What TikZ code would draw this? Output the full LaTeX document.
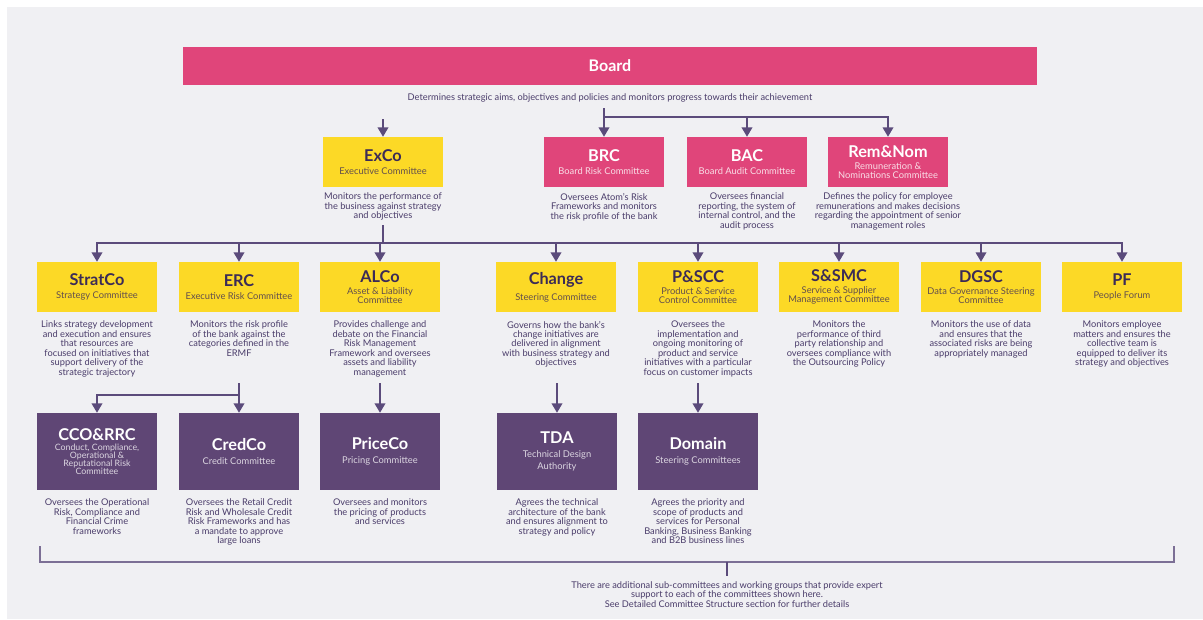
\documentclass[tikz,border=0pt]{standalone}
\usepackage{fontspec}
\setmainfont{Lato}
\usetikzlibrary{arrows.meta}
\definecolor{cbg}{HTML}{F0F0F3}
\definecolor{cpink}{HTML}{E0457A}
\definecolor{cyel}{HTML}{FCD926}
\definecolor{cpur}{HTML}{5F4675}
\definecolor{cline}{HTML}{5B4B7B}
\definecolor{ctxt}{HTML}{3B2B57}
\definecolor{cdesc}{HTML}{4A3C6A}
\newcommand\cttl[1]{{\fontsize{12.2}{12}\selectfont\bfseries #1}}
\newcommand\ysub[1]{{\color{ctxt!80!cyel}#1}}
\newcommand\psub[1]{{\color{white!82!cpink}#1}}
\newcommand\vsub[1]{{\color{white!78!cpur}#1}}
\newcommand\vsubs[1]{{\fontsize{6.6}{5.4}\selectfont\color{white!78!cpur}#1}}
\begin{document}
\begin{tikzpicture}[x=0.75pt,y=-0.75pt,
 box/.style={minimum width=90pt, minimum height=37.5pt, inner sep=1pt, align=center, font=\fontsize{7}{6.6}\selectfont},
 ybox/.style={box, fill=cyel, text=ctxt},
 pbox/.style={box, fill=cpink, text=white},
 vbox/.style={box, fill=cpur, text=white, minimum height=57.75pt},
 desc/.style={font=\fontsize{6.95}{7.1}\selectfont, text=cdesc, align=center, inner sep=0pt, anchor=north},
 ln/.style={draw=cline, line width=1pt},
 arr/.style={ln, -{Triangle[width=8pt,length=7pt]}},
]
\useasboundingbox (0,0) rectangle (1203,619);
\fill[cbg] (7,7) rectangle (1203,619);

% Board
\node[fill=cpink, text=white, minimum width=640.5pt, minimum height=28.5pt, inner sep=0pt,
  font=\fontsize{12}{12}\selectfont\bfseries] (board) at (610,66) {Board};
\node[desc] (bdesc) at (610,93) {Determines strategic aims, objectives and policies and monitors progress towards their achievement};

% Top row
\node[ybox] (exco) at (383,162) {\cttl{ExCo}\\[3.5pt]\ysub{Executive Committee}};
\node[pbox] (brc) at (604,162) {\cttl{BRC}\\[3.5pt]\psub{Board Risk Committee}};
\node[pbox] (bac) at (747,162) {\cttl{BAC}\\[3.5pt]\psub{Board Audit Committee}};
\node[pbox] (remnom) at (888,162) {\cttl{Rem\&Nom}\\[2.5pt]\psub{Remuneration \&}\\\psub{Nominations Committee}};

\node[desc] (dexco) at ([yshift=-4.2pt]exco.south) {Monitors the performance of\\the business against strategy\\and objectives};
\node[desc] (dbrc) at ([yshift=-4.2pt]brc.south) {Oversees Atom’s Risk\\Frameworks and monitors\\the risk profile of the bank};
\node[desc] (dbac) at ([yshift=-4.2pt]bac.south) {Oversees financial\\reporting, the system of\\internal control, and the\\audit process};
\node[desc] (dremnom) at ([yshift=-4.2pt]remnom.south) {Defines the policy for employee\\remunerations and makes decisions\\regarding the appointment of senior\\management roles};

% Second row
\node[ybox] (stratco) at (97,287) {\cttl{StratCo}\\[3.5pt]\ysub{Strategy Committee}};
\node[ybox] (erc) at (239,287) {\cttl{ERC}\\[3.5pt]\ysub{Executive Risk Committee}};
\node[ybox] (alco) at (380,287) {\cttl{ALCo}\\[2.5pt]\ysub{Asset \& Liability}\\\ysub{Committee}};
\node[ybox] (change) at (556,287) {\cttl{Change}\\[3.5pt]\ysub{Steering Committee}};
\node[ybox] (pscc) at (698,287) {\cttl{P\&SCC}\\[2.5pt]\ysub{Product \& Service}\\\ysub{Control Committee}};
\node[ybox] (ssmc) at (839,287) {\cttl{S\&SMC}\\[2.5pt]\ysub{Service \& Supplier}\\\ysub{Management Committee}};
\node[ybox] (dgsc) at (981,287) {\cttl{DGSC}\\[2.5pt]\ysub{Data Governance Steering}\\\ysub{Committee}};
\node[ybox] (pf) at (1122,287) {\cttl{PF}\\[3.5pt]\ysub{People Forum}};

\node[desc] (dstratco) at ([yshift=-6.3pt]stratco.south) {Links strategy development\\and execution and ensures\\that resources are\\focused on initiatives that\\support delivery of the\\strategic trajectory};
\node[desc] (derc) at ([yshift=-6.3pt]erc.south) {Monitors the risk profile\\of the bank against the\\categories defined in the\\ERMF};
\node[desc] (dalco) at ([yshift=-6.3pt]alco.south) {Provides challenge and\\debate on the Financial\\Risk Management\\Framework and oversees\\assets and liability\\management};
\node[desc] (dchange) at ([yshift=-6.3pt]change.south) {Governs how the bank’s\\change initiatives are\\delivered in alignment\\with business strategy and\\objectives};
\node[desc] (dpscc) at ([yshift=-6.3pt]pscc.south) {Oversees the\\implementation and\\ongoing monitoring of\\product and service\\initiatives with a particular\\focus on customer impacts};
\node[desc] (dssmc) at ([yshift=-6.3pt]ssmc.south) {Monitors the\\performance of third\\party relationship and\\oversees compliance with\\the Outsourcing Policy};
\node[desc] (ddgsc) at ([yshift=-6.3pt]dgsc.south) {Monitors the use of data\\and ensures that the\\associated risks are being\\appropriately managed};
\node[desc] (dpf) at ([yshift=-6.3pt]pf.south) {Monitors employee\\matters and ensures the\\collective team is\\equipped to deliver its\\strategy and objectives};

% Third row
\node[vbox] (cco) at (97,451.5) {\cttl{CCO\&RRC}\\[1pt]\vsubs{Conduct, Compliance,}\\[-0.6pt]\vsubs{Operational \&}\\[-0.6pt]\vsubs{Reputational Risk}\\[-0.6pt]\vsubs{Committee}};
\node[vbox] (credco) at (239,451.5) {\cttl{CredCo}\\[3.5pt]\vsub{Credit Committee}};
\node[vbox] (priceco) at (380,451.5) {\cttl{PriceCo}\\[3.5pt]\vsub{Pricing Committee}};
\node[vbox] (tda) at (557,451.5) {\cttl{TDA}\\[3.5pt]\vsub{Technical Design}\\[2.4pt]\vsub{Authority}};
\node[vbox] (domain) at (698,451.5) {\cttl{Domain}\\[3.5pt]\vsub{Steering Committees}};

\node[desc] (dcco) at ([yshift=-6.3pt]cco.south) {Oversees the Operational\\Risk, Compliance and\\Financial Crime\\frameworks};
\node[desc] (dcredco) at ([yshift=-6.3pt]credco.south) {Oversees the Retail Credit\\Risk and Wholesale Credit\\Risk Frameworks and has\\a mandate to approve\\large loans};
\node[desc] (dpriceco) at ([yshift=-6.3pt]priceco.south) {Oversees and monitors\\the pricing of products\\and services};
\node[desc] (dtda) at ([yshift=-6.3pt]tda.south) {Agrees the technical\\architecture of the bank\\and ensures alignment to\\strategy and policy};
\node[desc] (ddomain) at ([yshift=-6.3pt]domain.south) {Agrees the priority and\\scope of products and\\services for Personal\\Banking, Business Banking\\and B2B business lines};

% Footer
\node[desc] (foot) at (727,581) {There are additional sub-committees and working groups that provide expert\\support to each of the committees shown here.\\See Detailed Committee Structure section for further details};

% Connectors: Board level
\draw[arr] (exco.north |- 0,119) -- (exco.north);
\draw[arr] (brc.north |- 0,108) -- (brc.north);
\draw[arr] (brc.north |- 0,117) -| (remnom.north);
\draw[arr] (bac.north |- 0,117) -- (bac.north);

% ExCo bus
\draw[ln] (exco.south |- 0,225) -- (exco.south |- 0,243);
\draw[arr] (exco.south |- 0,243) -| (stratco.north);
\draw[arr] (exco.south |- 0,243) -| (pf.north);
\foreach \n in {erc,alco,change,pscc,ssmc,dgsc}
  \draw[arr] (\n.north |- 0,243) -- (\n.north);

% Third level
\draw[arr] (credco.north |- 0,383) -- (credco.north);
\draw[arr] (credco.north |- 0,395) -| (cco.north);
\draw[arr] (priceco.north |- 0,383) -- (priceco.north);
\draw[arr] (tda.north |- 0,383) -- (tda.north);
\draw[arr] (domain.north |- 0,383) -- (domain.north);

% Bracket
\draw[draw=cline!80, line width=1.2pt] (40,546) |- (1174,562) -- (1174,546);
\draw[ln] (foot.north |- 0,562) -- (foot.north |- 0,576);
\end{tikzpicture}
\end{document}
